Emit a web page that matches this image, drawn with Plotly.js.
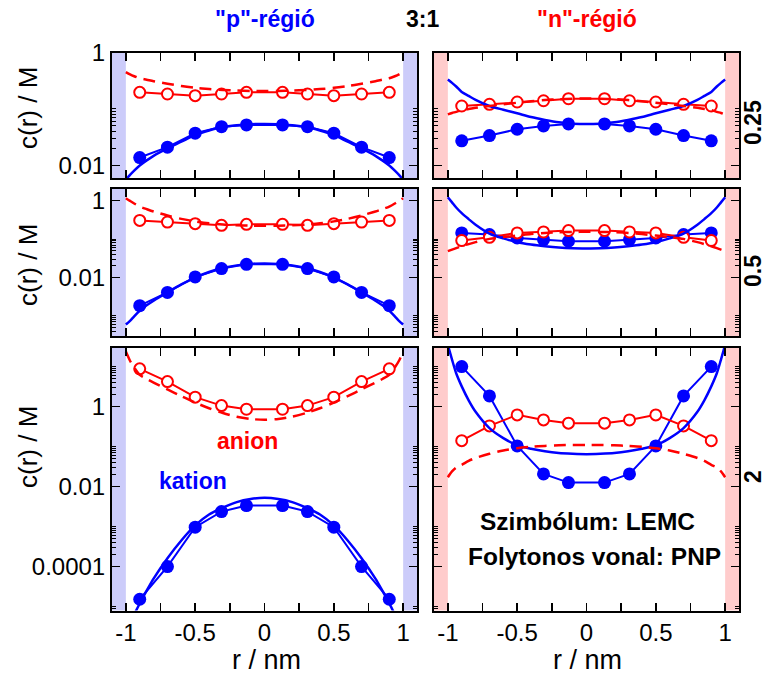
<!DOCTYPE html>
<html>
<head>
<meta charset="utf-8">
<script src="https://cdn.plot.ly/plotly-3.0.1.min.js"></script>
<style>
  html, body { margin: 0; padding: 0; background: #ffffff; }
  #chart { width: 768px; height: 680px; }
</style>
</head>
<body>
<div id="chart"></div>
<script>
// Radial positions (nm) of the LEMC bins and of the PNP profile samples
const rLemc = [-0.9, -0.7, -0.5, -0.31, -0.13, 0.13, 0.31, 0.5, 0.7, 0.9];
const rPnp = [-1, -0.97, -0.94, -0.9, -0.85, -0.8, -0.7, -0.6, -0.5, -0.4, -0.3, -0.2, -0.1, 0,
              0.1, 0.2, 0.3, 0.4, 0.5, 0.6, 0.7, 0.8, 0.85, 0.9, 0.94, 0.97, 1];

// c = 0.25 : "p" region
const p025CationLemc = [0.0138, 0.0211, 0.0373, 0.0487, 0.0522, 0.0522, 0.0487, 0.0373, 0.0211, 0.0138];
const p025AnionLemc = [0.197, 0.184, 0.172, 0.184, 0.197, 0.197, 0.184, 0.172, 0.184, 0.197];
const p025CationPnp = [0.0056, 0.0068, 0.0081, 0.0100, 0.0123, 0.0148, 0.0200, 0.0263, 0.0347, 0.0417, 0.0479, 0.0513, 0.0537, 0.0543,
                       0.0537, 0.0513, 0.0479, 0.0417, 0.0347, 0.0263, 0.0200, 0.0148, 0.0123, 0.0100, 0.0081, 0.0068, 0.0056];
const p025AnionPnp = [0.45, 0.41, 0.38, 0.35, 0.33, 0.31, 0.28, 0.255, 0.237, 0.225, 0.217, 0.212, 0.209, 0.208,
                      0.209, 0.212, 0.217, 0.225, 0.237, 0.255, 0.28, 0.31, 0.33, 0.35, 0.38, 0.41, 0.45];
// c = 0.25 : "n" region
const n025CationLemc = [0.0273, 0.0338, 0.0438, 0.0501, 0.0543, 0.0543, 0.0501, 0.0438, 0.0338, 0.0273];
const n025AnionLemc = [0.113, 0.121, 0.133, 0.14, 0.152, 0.152, 0.14, 0.133, 0.121, 0.113];
const n025CationPnp = [0.333, 0.29, 0.25, 0.2, 0.17, 0.145, 0.113, 0.097, 0.084, 0.072, 0.064, 0.058, 0.055, 0.054,
                       0.055, 0.058, 0.064, 0.072, 0.084, 0.097, 0.113, 0.145, 0.17, 0.2, 0.25, 0.29, 0.333];
const n025AnionPnp = [0.080, 0.085, 0.089, 0.096, 0.100, 0.105, 0.113, 0.121, 0.129, 0.137, 0.144, 0.149, 0.152, 0.153,
                      0.152, 0.149, 0.144, 0.137, 0.129, 0.121, 0.113, 0.105, 0.100, 0.096, 0.089, 0.085, 0.080];

// c = 0.5 : "p" region
const p05CationLemc = [0.00185, 0.0041, 0.01035, 0.0171, 0.022, 0.022, 0.0171, 0.01035, 0.0041, 0.00185];
const p05AnionLemc = [0.305, 0.277, 0.251, 0.227, 0.241, 0.241, 0.227, 0.251, 0.277, 0.305];
const p05CationPnp = [0.0006, 0.00075, 0.00098, 0.00138, 0.0019, 0.0025, 0.0041, 0.0066, 0.0100, 0.0139, 0.0177, 0.0207, 0.0226, 0.0232,
                      0.0226, 0.0207, 0.0177, 0.0139, 0.0100, 0.0066, 0.0041, 0.0025, 0.0019, 0.00138, 0.00098, 0.00075, 0.0006];
const p05AnionPnp = [1.15, 0.98, 0.84, 0.70, 0.6, 0.52, 0.41, 0.335, 0.288, 0.257, 0.238, 0.228, 0.223, 0.222,
                     0.223, 0.228, 0.238, 0.257, 0.288, 0.335, 0.41, 0.52, 0.6, 0.70, 0.84, 0.98, 1.15];
// c = 0.5 : "n" region
const n05CationLemc = [0.1445, 0.1306, 0.107, 0.097, 0.0878, 0.0878, 0.097, 0.107, 0.1306, 0.1445];
const n05AnionLemc = [0.0915, 0.111, 0.1445, 0.153, 0.166, 0.166, 0.153, 0.1445, 0.111, 0.0915];
const n05CationPnp = [1.22, 0.9, 0.66, 0.47, 0.33, 0.236, 0.139, 0.104, 0.083, 0.072, 0.065, 0.06, 0.0575, 0.057,
                      0.0575, 0.06, 0.065, 0.072, 0.083, 0.104, 0.139, 0.236, 0.33, 0.47, 0.66, 0.9, 1.22];
const n05AnionPnp = [0.0485, 0.053, 0.058, 0.065, 0.074, 0.083, 0.101, 0.113, 0.123, 0.135, 0.1445, 0.15, 0.153, 0.154,
                     0.153, 0.15, 0.1445, 0.135, 0.123, 0.113, 0.101, 0.083, 0.074, 0.065, 0.058, 0.053, 0.0485];

// c = 2 : "p" region
const p2CationLemc = [1.53e-5, 1e-4, 9.66e-4, 2.37e-3, 3.35e-3, 3.35e-3, 2.37e-3, 9.66e-4, 1e-4, 1.53e-5];
const p2AnionLemc = [8.77, 4.22, 1.72, 1.06, 0.86, 0.86, 1.06, 1.72, 4.22, 8.77];
const p2CationPnp = [2e-6, 3.5e-6, 6.3e-6, 1.2e-5, 2.5e-5, 5e-5, 1.62e-4, 4.5e-4, 1.07e-3, 2e-3, 3e-3, 4.1e-3, 4.9e-3, 5.25e-3,
                     4.9e-3, 4.1e-3, 3e-3, 2e-3, 1.07e-3, 4.5e-4, 1.62e-4, 5e-5, 2.5e-5, 1.2e-5, 6.3e-6, 3.5e-6, 2e-6];
const p2AnionPnp = [23.7, 14, 9.5, 6.2, 4.9, 3.98, 2.69, 1.82, 1.26, 0.91, 0.69, 0.56, 0.49, 0.468,
                    0.49, 0.56, 0.69, 0.91, 1.26, 1.82, 2.69, 3.98, 4.9, 6.2, 9.5, 14, 23.7];
// c = 2 : "n" region
const n2CationLemc = [10, 1.85, 0.104, 0.0208, 0.0126, 0.0126, 0.0208, 0.104, 1.85, 10];
const n2AnionLemc = [0.141, 0.329, 0.62, 0.465, 0.385, 0.385, 0.465, 0.62, 0.329, 0.141];
const n2CationPnp = [35, 15, 6.8, 3.2, 1.43, 0.74, 0.29, 0.163, 0.108, 0.088, 0.076, 0.069, 0.066, 0.0645,
                     0.066, 0.069, 0.076, 0.088, 0.108, 0.163, 0.29, 0.74, 1.43, 3.2, 6.8, 15, 35];
const n2AnionPnp = [0.0172, 0.024, 0.03, 0.035, 0.044, 0.052, 0.066, 0.08, 0.091, 0.099, 0.104, 0.108, 0.11, 0.11,
                    0.11, 0.108, 0.104, 0.099, 0.091, 0.08, 0.066, 0.052, 0.044, 0.035, 0.03, 0.024, 0.0172];

// Tick labels
const xTickVals = [-1, -0.75, -0.5, -0.25, 0, 0.25, 0.5, 0.75, 1];
const xTickText = ['-1', '', '-0.5', '', '0', '', '0.5', '', '1'];
const yTickVals = [1e-6, 1e-4, 0.01, 1, 100];
const yTickText = ['1e-6', '0.0001', '0.01', '1', '100'];
const rowLabels = ['0.25', '0.5', '2'];
const colTitles = ['"p"-régió', '3:1', '"n"-régió'];

const BLUE = '#0000ff';
const RED = '#ff0000';
const FONT = 'Liberation Sans, Arial, Helvetica, sans-serif';

// minor log ticks: 2..10 times each labelled decade
const minorTickVals = [];
for (let e = -8; e <= 2; e += 2) {
  for (let n = 2; n <= 10; n++) minorTickVals.push(n * Math.pow(10, e));
}

const panels = [
  { cat: p025CationLemc, an: p025AnionLemc, catP: p025CationPnp, anP: p025AnionPnp, col: 0, row: 0 },
  { cat: n025CationLemc, an: n025AnionLemc, catP: n025CationPnp, anP: n025AnionPnp, col: 1, row: 0 },
  { cat: p05CationLemc, an: p05AnionLemc, catP: p05CationPnp, anP: p05AnionPnp, col: 0, row: 1 },
  { cat: n05CationLemc, an: n05AnionLemc, catP: n05CationPnp, anP: n05AnionPnp, col: 1, row: 1 },
  { cat: p2CationLemc, an: p2AnionLemc, catP: p2CationPnp, anP: p2AnionPnp, col: 0, row: 2 },
  { cat: n2CationLemc, an: n2AnionLemc, catP: n2CationPnp, anP: n2AnionPnp, col: 1, row: 2 }
];

const W = 768, H = 680;
const colPx = [[112, 417], [434, 739]];
const rowPx = [[52.5, 178], [189, 336], [347.5, 610.5]];
const rowRange = [[-2.222, 0], [-3.52, 0.301], [-5.097, 1.477]];
const bandColor = ['#ccccfa', '#ffcccc'];
const TICKFONT = { size: 24, family: FONT, color: '#000' };

const traces = [];
const layout = {
  width: W, height: H,
  margin: { l: 0, r: 0, t: 0, b: 0 },
  paper_bgcolor: '#ffffff', plot_bgcolor: '#ffffff',
  showlegend: false,
  font: { family: FONT, color: '#000000' },
  shapes: [], annotations: []
};

panels.forEach((p, i) => {
  const k = i + 1;
  const xa = 'x' + (k === 1 ? '' : k), ya = 'y' + (k === 1 ? '' : k);
  const common = { xaxis: xa, yaxis: ya, hoverinfo: 'skip' };

  traces.push(Object.assign({ type: 'scatter', mode: 'lines+markers', x: rLemc, y: p.cat,
    line: { color: BLUE, width: 2 }, marker: { color: BLUE, size: 13, symbol: 'circle' } }, common));
  traces.push(Object.assign({ type: 'scatter', mode: 'lines+markers', x: rLemc, y: p.an,
    line: { color: RED, width: 2 },
    marker: { color: '#ffffff', size: 11, symbol: 'circle', line: { color: RED, width: 2 } } }, common));
  traces.push(Object.assign({ type: 'scatter', mode: 'lines', x: rPnp, y: p.catP,
    line: { color: BLUE, width: 2.5, shape: 'spline', smoothing: 0.8 } }, common));
  traces.push(Object.assign({ type: 'scatter', mode: 'lines', x: rPnp, y: p.anP,
    line: { color: RED, width: 2.5, dash: '12px,7px', shape: 'spline', smoothing: 0.8 } }, common));

  const cx = colPx[p.col], ry = rowPx[p.row];
  const bottom = p.row === 2;
  layout['xaxis' + (k === 1 ? '' : k)] = {
    domain: [cx[0] / W, cx[1] / W], anchor: ya, range: [-1.1, 1.1],
    showline: true, mirror: 'ticks', linecolor: '#000', linewidth: 2,
    ticks: 'inside', ticklen: 8, tickwidth: 1.5, tickcolor: '#000',
    tickmode: 'array', tickvals: xTickVals, ticktext: xTickText,
    showticklabels: bottom, tickfont: TICKFONT,
    showgrid: false, zeroline: false, fixedrange: true
  };
  layout['yaxis' + (k === 1 ? '' : k)] = {
    domain: [1 - ry[1] / H, 1 - ry[0] / H], anchor: xa, type: 'log', range: rowRange[p.row],
    showline: true, mirror: 'ticks', linecolor: '#000', linewidth: 2,
    ticks: 'inside', ticklen: 8, tickwidth: 1.5, tickcolor: '#000',
    tickmode: 'array', tickvals: yTickVals, ticktext: yTickText,
    minor: { tickmode: 'array', tickvals: minorTickVals, ticks: 'inside', ticklen: 4, tickwidth: 1, tickcolor: '#000' },
    showticklabels: p.col === 0, tickfont: TICKFONT,
    showgrid: false, zeroline: false, fixedrange: true
  };

  // pore wall regions at both ends
  [[-1.1, -1], [1, 1.1]].forEach(b => {
    layout.shapes.push({ type: 'rect', xref: xa, yref: ya + ' domain', x0: b[0], x1: b[1], y0: 0, y1: 1,
      fillcolor: bandColor[p.col], line: { width: 0 }, layer: 'below' });
  });
});

function note(text, px, py, size, color, bold, angle) {
  layout.annotations.push({
    xref: 'paper', yref: 'paper', x: px / W, y: 1 - py / H, xanchor: 'center', yanchor: 'middle',
    text: text, showarrow: false, textangle: angle || 0,
    font: { family: FONT, size: size, color: color, weight: bold ? 'bold' : 'normal' }
  });
}

note(colTitles[0], 265, 19, 23, BLUE, true);
note(colTitles[1], 422, 19, 23, '#000', true);
note(colTitles[2], 587, 19, 23, RED, true);
note(rowLabels[0], 753, 123, 23, '#000', true, -90);
note(rowLabels[1], 753, 271, 23, '#000', true, -90);
note(rowLabels[2], 753, 477, 23, '#000', true, -90);
note('c(r) / M', 28, 108, 26, '#000', false, -90);
note('c(r) / M', 28, 265, 26, '#000', false, -90);
note('c(r) / M', 28, 447, 26, '#000', false, -90);
note('r / nm', 266, 660, 27, '#000', false);
note('r / nm', 587, 660, 27, '#000', false);
note('anion', 247, 441, 23, RED, true);
note('kation', 193, 481, 23, BLUE, true);
note('Szimbólum: LEMC', 587, 521, 24.5, '#000', true);
note('Folytonos vonal: PNP', 594, 556, 24.5, '#000', true);

Plotly.newPlot('chart', traces, layout, { displayModeBar: false, staticPlot: true });
</script>
</body>
</html>
